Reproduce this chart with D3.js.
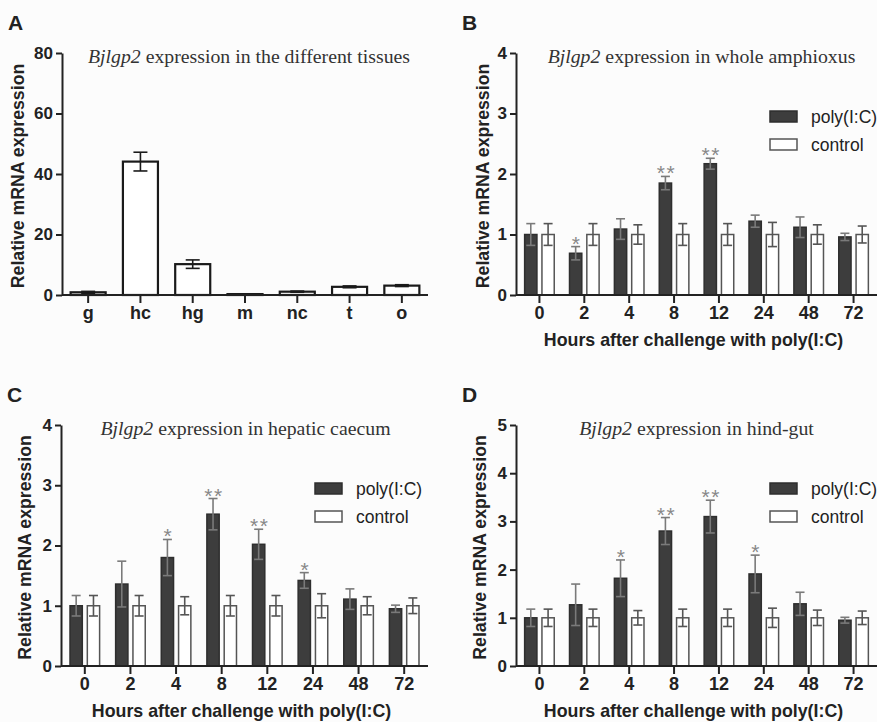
<!DOCTYPE html>
<html>
<head>
<meta charset="utf-8">
<script src="https://cdn.jsdelivr.net/npm/d3@7"></script>
<style>
	body { margin: 0; background: #fcfcfc; }
	svg { display: block; font-family: 'Liberation Sans', Arial, sans-serif; }
	.axis path, .axis line, .baseline { stroke: #222; stroke-width: 2; }
	.axis text { fill: #222; font-weight: bold; }
	.title { font-family: 'Liberation Serif', 'Times New Roman', serif; fill: #333; }
	.ylabel, .xlabel, .letter { font-weight: bold; fill: #222; }
	.legend text { fill: #222; }
	.star { fill: #888; }
</style>
</head>
<body>
<script>
// panel A: tissue distribution
const tissues = ['g', 'hc', 'hg', 'm', 'nc', 't', 'o']
const tissueMean = [0.9, 44.1, 10.2, 0.3, 1.1, 2.7, 3.1]
const tissueErr = [0.3, 3.1, 1.4, 0.1, 0.2, 0.3, 0.3]

// panels B-D: time course after poly(I:C)
const hours = ['0', '2', '4', '8', '12', '24', '48', '72']

const wholePoly = [1.0, 0.69, 1.09, 1.85, 2.17, 1.22, 1.12, 0.96]
const wholePolyErr = [0.18, 0.11, 0.17, 0.11, 0.09, 0.10, 0.17, 0.06]
const wholeCtrl = [1, 1, 1, 1, 1, 1, 1, 1]
const wholeCtrlErr = [0.18, 0.18, 0.16, 0.18, 0.18, 0.20, 0.16, 0.14]
const wholeStars = ['', '*', '', '**', '**', '', '', '']

const hepaticPoly = [1.0, 1.36, 1.80, 2.52, 2.02, 1.42, 1.11, 0.95]
const hepaticPolyErr = [0.17, 0.38, 0.30, 0.26, 0.25, 0.13, 0.17, 0.06]
const hepaticCtrl = [1, 1, 1, 1, 1, 1, 1, 1]
const hepaticCtrlErr = [0.17, 0.17, 0.15, 0.17, 0.17, 0.20, 0.15, 0.13]
const hepaticStars = ['', '', '*', '**', '**', '*', '', '']

const hindPoly = [1.0, 1.27, 1.82, 2.80, 3.10, 1.91, 1.29, 0.95]
const hindPolyErr = [0.18, 0.43, 0.38, 0.28, 0.34, 0.39, 0.24, 0.06]
const hindCtrl = [1, 1, 1, 1, 1, 1, 1, 1]
const hindCtrlErr = [0.18, 0.18, 0.15, 0.18, 0.18, 0.20, 0.16, 0.14]
const hindStars = ['', '', '*', '**', '**', '*', '', '']

const seriesNames = ['poly(I:C)', 'control']

const svg = d3.select('body').append('svg').attr('width', 877).attr('height', 722)

function title(g, x, y, rest) {
	const t = g.append('text').attr('class', 'title').attr('x', x).attr('y', y)
		.attr('text-anchor', 'middle').attr('font-size', 19.8)
	t.append('tspan').attr('font-style', 'italic').text('Bjlgp2')
	t.append('tspan').text(' ' + rest)
}

function frame(g, box, y, yTicks, xScale, letter, yLabelX) {
	g.append('text').attr('class', 'letter').attr('x', box.left - 54).attr('y', box.top - 23)
		.attr('font-size', 21).text(letter)

	const ya = g.append('g').attr('class', 'axis').attr('transform', `translate(${box.left},0)`)
		.call(d3.axisLeft(y).tickValues(yTicks).tickFormat(d3.format('d'))
			.tickSize(6).tickPadding(3).tickSizeOuter(0))
	ya.attr('font-size', 17).attr('font-family', null)

	const xa = g.append('g').attr('class', 'axis').attr('transform', `translate(0,${box.bottom})`)
		.call(d3.axisBottom(xScale).tickSize(8).tickPadding(3).tickSizeOuter(0))
	xa.attr('font-size', 18).attr('font-family', null)
	xa.select('.domain').remove()
	g.append('line').attr('class', 'baseline')
		.attr('x1', box.left).attr('x2', box.right).attr('y1', box.bottom).attr('y2', box.bottom)

	g.append('text').attr('class', 'ylabel').attr('font-size', 17.7)
		.attr('transform', `translate(${yLabelX},${(box.top + box.bottom) / 2 + 2}) rotate(-90)`)
		.attr('text-anchor', 'middle').text('Relative mRNA expression')
}

function errorBar(g, x, y, mean, err, cap, color) {
	const eb = g.append('g').attr('stroke', color).attr('stroke-width', 1.6)
	eb.append('line').attr('x1', x).attr('x2', x).attr('y1', y(mean - err)).attr('y2', y(mean + err))
	for (const v of [mean - err, mean + err])
		eb.append('line').attr('x1', x - cap / 2).attr('x2', x + cap / 2).attr('y1', y(v)).attr('y2', y(v))
}

function tissuePanel(box) {
	const g = svg.append('g')
	const y = d3.scaleLinear().domain([0, 80]).range([box.bottom, box.top])
	const x = d3.scaleBand().domain(tissues).range([box.left, box.right])
		.paddingInner(0.33).paddingOuter(0.165)

	g.selectAll('rect.bar').data(tissues).join('rect').attr('class', 'bar')
		.attr('x', d => x(d)).attr('width', x.bandwidth())
		.attr('y', (d, i) => y(tissueMean[i])).attr('height', (d, i) => box.bottom - y(tissueMean[i]))
		.attr('fill', '#fff').attr('stroke', '#1a1a1a').attr('stroke-width', 2.2)

	tissues.forEach((d, i) => errorBar(g, x(d) + x.bandwidth() / 2, y, tissueMean[i], tissueErr[i], 14, '#1a1a1a'))

	frame(g, box, y, [0, 20, 40, 60, 80], x, 'A', 24)
	title(g, (box.left + box.right) / 2 + 4, box.top + 10, 'expression in the different tissues')
}

function timePanel(box, cfg) {
	const g = svg.append('g')
	const y = d3.scaleLinear().domain([0, cfg.yMax]).range([box.bottom, box.top])
	const x = d3.scaleBand().domain(hours).range([box.left + 1, box.right - 1])
	const sub = d3.scaleBand().domain(seriesNames).range([-14.8, 14.8]).paddingInner(0.29)
	const cx = d => x(d) + x.bandwidth() / 2

	const series = [
		{name: seriesNames[0], mean: cfg.poly, err: cfg.polyErr, fill: '#3d3d3d', stroke: '#2e2e2e', bar: '#7a7a7a'},
		{name: seriesNames[1], mean: cfg.ctrl, err: cfg.ctrlErr, fill: '#fff', stroke: '#555', bar: '#555'}
	]

	for (const s of series) {
		g.append('g').selectAll('rect').data(hours).join('rect')
			.attr('x', d => cx(d) + sub(s.name)).attr('width', sub.bandwidth())
			.attr('y', (d, i) => y(s.mean[i])).attr('height', (d, i) => box.bottom - y(s.mean[i]))
			.attr('fill', s.fill).attr('stroke', s.stroke).attr('stroke-width', 1.5)
		hours.forEach((d, i) => errorBar(g, cx(d) + sub(s.name) + sub.bandwidth() / 2, y, s.mean[i], s.err[i], 9, s.bar))
	}

	g.append('g').selectAll('text').data(hours).join('text').attr('class', 'star')
		.attr('x', d => cx(d) + sub(seriesNames[0]) + sub.bandwidth() / 2 + 1)
		.attr('y', (d, i) => y(cfg.poly[i] + cfg.polyErr[i]) + 4)
		.attr('text-anchor', 'middle').attr('font-size', 21).attr('letter-spacing', 1.5)
		.text((d, i) => cfg.stars[i])

	frame(g, box, y, d3.range(0, cfg.yMax + 1), x, cfg.letter, cfg.yLabelX)
	title(g, (box.left + box.right) / 2 + cfg.titleShift, box.top + 10, cfg.title)

	g.append('text').attr('class', 'xlabel').attr('font-size', 17.8)
		.attr('x', (box.left + box.right) / 2 - 3).attr('y', box.bottom + 51)
		.attr('text-anchor', 'middle').text('Hours after challenge with poly(I:C)')

	const lg = g.append('g').attr('class', 'legend')
		.attr('transform', `translate(${box.left + 254},${box.top + 58})`)
	series.forEach((s, i) => {
		lg.append('rect').attr('x', 0).attr('y', i * 28).attr('width', 27).attr('height', 11)
			.attr('fill', s.fill).attr('stroke', s.stroke).attr('stroke-width', 1.5)
		lg.append('text').attr('x', 41).attr('y', i * 28 + 12).attr('font-size', 17.5).text(s.name)
	})
}

tissuePanel({left: 62, right: 428, top: 53, bottom: 295})

timePanel({left: 516, right: 877, top: 53, bottom: 295}, {
	letter: 'B', yMax: 4, yLabelX: 489, titleShift: 5,
	title: 'expression in whole amphioxus',
	poly: wholePoly, polyErr: wholePolyErr, ctrl: wholeCtrl, ctrlErr: wholeCtrlErr, stars: wholeStars
})

timePanel({left: 61, right: 428, top: 425, bottom: 666}, {
	letter: 'C', yMax: 4, yLabelX: 31, titleShift: 1,
	title: 'expression in hepatic caecum',
	poly: hepaticPoly, polyErr: hepaticPolyErr, ctrl: hepaticCtrl, ctrlErr: hepaticCtrlErr, stars: hepaticStars
})

timePanel({left: 516, right: 877, top: 425, bottom: 666}, {
	letter: 'D', yMax: 5, yLabelX: 486, titleShift: 0,
	title: 'expression in hind-gut',
	poly: hindPoly, polyErr: hindPolyErr, ctrl: hindCtrl, ctrlErr: hindCtrlErr, stars: hindStars
})
</script>
</body>
</html>
